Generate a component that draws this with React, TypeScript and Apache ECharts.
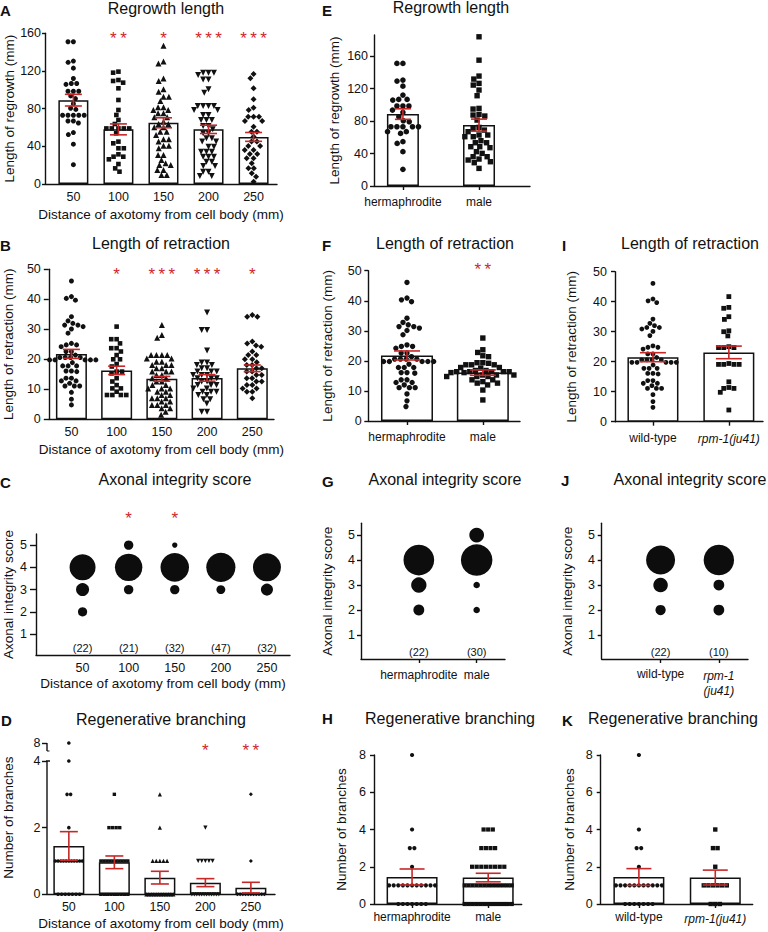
import React, { useEffect, useRef } from 'react';
import * as echarts from 'echarts';

const FONT = "'Liberation Sans', Arial, Helvetica, sans-serif";
const INK = '#111111';
const RED = '#c62828';
const STAR = '#d0262b';

// ---------- categories ----------
const distanceCats = ['50', '100', '150', '200', '250'];
const sexCats = ['hermaphrodite', 'male'];
const strainCats = ['wild-type', 'rpm-1(ju41)'];

// ---------- tick labels ----------
const regrowthTicks = [0, 40, 80, 120, 160];
const retractionTicks = [0, 10, 20, 30, 40, 50];
const scoreTicks = [1, 2, 3, 4, 5];
const branchTicksBroken = [0, 2, 4, 8];
const branchTicks = [0, 2, 4, 6, 8];

// ---------- A / E : regrowth length ----------
const regrowth50 = [151, 151, 130.5, 129.2, 123, 112, 106.7, 106.7, 105.8, 98.5, 98.5, 98.5, 93.5, 90.7, 85.3, 80.4, 79.2, 73, 73, 73, 73, 73, 66.9, 66.9, 64.8, 54.6, 52.5, 42.3, 20.5];
const regrowth100 = [119.3, 118.2, 110.4, 109.4, 107.6, 101.6, 89.2, 78.6, 73.3, 68, 63.7, 59, 59, 59, 59, 59, 53.8, 45, 43.2, 37.9, 37.9, 31.5, 29, 29, 26.2, 21.2, 16.6, 13.1];
const regrowth150 = [146.9, 130, 128, 112, 109.4, 100.5, 98, 92.7, 92.7, 88, 81.4, 81.4, 78.6, 78.6, 75, 75, 70.8, 70.8, 66.2, 63.7, 63.7, 60.2, 60.2, 55.6, 55.6, 52, 47.4, 47.4, 45, 40.7, 40.7, 37.9, 30.8, 30.8, 25.5, 21.9, 20.2, 20.2, 14.9, 14.9, 9.6, 9.6];
const regrowth200 = [118, 118, 118, 115.8, 111, 111, 100.5, 97, 82.8, 82.8, 82.8, 82.8, 78.6, 78.6, 73.3, 73.3, 68, 68, 68, 61.6, 61.6, 58, 53.8, 53.8, 48.5, 48.5, 45, 45, 39.6, 39.6, 34.3, 34.3, 34.3, 29, 29, 29, 23.7, 23.7, 19.1, 19.1, 13.1, 13.1, 8.5, 8.5];
const regrowth250 = [116.8, 112.2, 101.6, 89.9, 81, 78.6, 71.5, 71.5, 71.5, 66.9, 66.9, 60.9, 55.6, 55.6, 50.3, 45, 45, 40.4, 40.4, 36.1, 36.1, 31.9, 31.9, 27.3, 27.3, 21.9, 16.6, 16.6, 11.3, 7.8, 2.5];
const regrowthMeans = [89, 58, 65, 58, 50];
const regrowthSems = [6.2, 5.8, 5.3, 4.4, 4.7];
const regrowthStars = ['', '**', '*', '***', '***'];

const regrowthMale = [183.8, 155, 135.4, 131.7, 126.4, 124.3, 118.2, 111.2, 95.6, 94.8, 88.2, 87.4, 86.2, 81.2, 72.2, 71, 68.9, 66.9, 62.8, 62.8, 60.7, 60.7, 55.8, 53.3, 53.3, 48.4, 48.4, 47.2, 42.3, 40.2, 36.1, 36.1, 33.2, 32, 29.9, 28.7, 21.7];
const sexRegrowthMeans = [88.6, 75];
const sexRegrowthSems = [6.5, 7.4];

// ---------- B / F / I : retraction ----------
const retraction50 = [46.1, 40.9, 40.3, 39.7, 34.2, 32.8, 32, 31.4, 31.4, 30.9, 30.1, 28.7, 25.3, 24.8, 24.8, 24.2, 22.6, 22.6, 21.4, 20.6, 20.6, 20.6, 20.6, 19.8, 19.8, 19.8, 19.8, 19.8, 18.9, 17.8, 17.8, 17.8, 16.1, 16.1, 15.9, 13.7, 13.7, 12.8, 12.8, 12, 11.1, 11.1, 11.1, 9, 6.7, 4.8];
const retraction100 = [30.9, 26.7, 26.7, 25.3, 23.7, 23.7, 22.6, 21.4, 20, 20, 18.4, 17.6, 15.9, 15.9, 15.3, 13.7, 12.6, 11.4, 10.3, 10.3, 9.2, 8.1, 8.1, 8.1, 8.1];
const retraction150 = [31.4, 28.1, 27.2, 21.4, 21.4, 21.4, 21.4, 20.3, 20.3, 19.2, 19.2, 18.1, 18.1, 18.1, 17, 17, 15.9, 15.9, 15.9, 14.8, 14.8, 13.7, 13.7, 12.6, 12.6, 11.4, 11.4, 10.3, 10.3, 10.3, 9.2, 9.2, 8.1, 8.1, 7, 7, 7, 5.9, 5.9, 4.8, 4.8, 4.8, 3.7, 3.7, 2.5, 1.5];
const retraction200 = [35.6, 29.8, 29.8, 22.9, 18.9, 18.9, 18.1, 18.1, 17, 17, 15.9, 15.9, 15.9, 14.8, 14.8, 14.8, 13.7, 13.7, 13.7, 12.6, 12.6, 11.4, 11.4, 11.4, 10.3, 10.3, 9.2, 9.2, 9.2, 8.1, 8.1, 6.7, 6.7, 5.3, 2.5, 2.5];
const retraction250 = [34.8, 34.2, 34.2, 25.9, 25.3, 24.6, 24.2, 22.6, 21.4, 21.4, 20, 20, 19, 18.1, 18.1, 17, 17, 15.9, 15.9, 14.8, 14.8, 13.7, 13.7, 12.6, 12.6, 11.4, 11.4, 10.3, 10.3, 9.2, 9.2, 7];
const retractionMeans = [21.8, 16.3, 13.5, 13.8, 17];
const retractionSems = [1.5, 1.4, 0.8, 1.1, 1.1];
const retractionStars = ['', '*', '***', '***', '*'];

const retractionMale = [27.6, 23.7, 22.8, 21.7, 21.4, 19.4, 19.4, 19.2, 18.7, 18.7, 18.7, 17.8, 17.8, 17.6, 16.8, 16.8, 16.4, 16.4, 16.4, 16.4, 16.4, 16.1, 16.1, 15.3, 15.3, 15.3, 14.8, 14.8, 14.8, 13.7, 13.7, 13.1, 12.6, 12.6, 12, 10.3, 7];
const sexRetractionMeans = [21.8, 16.1];
const sexRetractionSems = [1.5, 0.9];
const sexRetractionStars = ['', '**'];

const retractionRpm = [41.7, 38.1, 37.8, 35, 34.1, 30.3, 30, 28.6, 25, 24.7, 24.7, 24.7, 19.4, 19.1, 19.1, 19.1, 19.1, 13.3, 11.4, 11.1, 11.1, 9.8, 3.9];
const strainRetractionMeans = [21.5, 23.1];
const strainRetractionSems = [1.5, 2.1];

// ---------- C / G / J : axonal integrity score, [score, count] ----------
const integrity50 = [[4, 16], [3, 4], [2, 2]];
const integrity100 = [[5, 2], [4, 17], [3, 2]];
const integrity150 = [[5, 1], [4, 28], [3, 3]];
const integrity200 = [[4, 43], [3, 4]];
const integrity250 = [[4, 27], [3, 5]];
const integrityN = [22, 21, 32, 47, 32];
const integrityStars = ['', '*', '*', '', ''];
const integrityMale = [[5, 5], [4, 23], [3, 1], [2, 1]];
const sexIntegrityN = [22, 30];
const integrityRpm = [[4, 8], [3, 1], [2, 1]];
const strainIntegrityN = [22, 10];

// ---------- D / H / K : branching ----------
const branching50 = [0, 0, 0, 0, 0, 0, 0, 1, 1, 1, 1, 1, 1, 1, 1, 1, 1, 1, 2, 3, 3, 4, 8];
const branching100 = [0, 0, 0, 0, 0, 0, 0, 0, 0, 1, 1, 1, 1, 1, 1, 1, 1, 1, 1, 2, 2, 2, 2, 3];
const branching150 = [0, 0, 0, 0, 0, 0, 0, 0, 0, 0, 0, 0, 1, 1, 1, 1, 1, 2, 3];
const branching200 = [0, 0, 0, 0, 0, 0, 0, 0, 0, 0, 0, 0, 1, 1, 1, 1, 1, 2];
const branching250 = [0, 0, 0, 0, 0, 0, 0, 0, 0, 0, 0, 1, 3];
const branchingMeans = [1.45, 0.96, 0.5, 0.35, 0.2];
const branchingSems = [0.43, 0.19, 0.19, 0.12, 0.16];
const branchingStars = ['', '', '', '*', '**'];

const branchingMale = [0, 0, 0, 0, 0, 0, 0, 0, 0, 0, 0, 0, 0, 1, 1, 1, 1, 1, 1, 1, 1, 1, 1, 1, 1, 1, 2, 2, 2, 2, 2, 2, 2, 2, 3, 3, 3, 3, 4, 4, 4];
const sexBranchingMeans = [1.45, 1.42];
const sexBranchingSems = [0.43, 0.23];
const branchingRpm = [0, 0, 0, 1, 1, 1, 1, 1, 1, 2, 3, 3, 4];
const strainBranchingMeans = [1.45, 1.42];
const strainBranchingSems = [0.45, 0.4];

// ---------- layout helpers ----------
type Spec = {
  left: number; top: number; right: number; bottom: number;
  xMin: number; xMax: number; yMin: number; yMax: number;
  cats: string[]; catFmt?: (c: string) => string;
  xTicks: boolean; xLabelMargin: number; xLabelSize: number;
  xName?: string; xNameGap?: number;
  yTicks: number[]; yFmt?: (v: number) => string; yTickPos?: (v: number) => number;
  yLabelMargin: number; yTickLen: number;
  yName: string; yNameGap: number; hideYLine?: boolean;
};

// broken axis transform for panel D (values above 4 compressed)
const BREAK_AT = 4;
const BREAK_SCALE = 0.135;
const brk = (v: number) => (v <= BREAK_AT ? v : BREAK_AT + (v - BREAK_AT) * BREAK_SCALE);
const unbrk = (v: number) => (v <= BREAK_AT + 1e-6 ? v : BREAK_AT + (v - BREAK_AT) / BREAK_SCALE);

function swarm(vals: number[], pxX: number, pxY: number, d: number): number[] {
  const order = vals.map((_, i) => i).sort((a, b) => vals[b] - vals[a]);
  const placed: { x: number; y: number }[] = [];
  const offs = new Array(vals.length).fill(0);
  for (const i of order) {
    const y = vals[i] * pxY;
    const forb: [number, number][] = [];
    for (const p of placed) {
      const dy = Math.abs(p.y - y);
      if (dy < d) {
        const w = Math.sqrt(d * d - dy * dy);
        forb.push([p.x - w, p.x + w]);
      }
    }
    const cands = [0];
    forb.forEach(([a, b]) => cands.push(a, b));
    cands.sort((a, b) => Math.abs(a) - Math.abs(b));
    let x = 0;
    for (const c of cands) {
      if (forb.every(([a, b]) => c <= a + 1e-6 || c >= b - 1e-6)) { x = c; break; }
    }
    placed.push({ x, y });
    offs[i] = x / pxX;
  }
  return offs;
}

function rows(vals: number[], pxX: number, d: number, maxW: number): number[] {
  const groups = new Map<number, number[]>();
  vals.forEach((v, i) => {
    if (!groups.has(v)) groups.set(v, []);
    groups.get(v)!.push(i);
  });
  const offs = new Array(vals.length).fill(0);
  groups.forEach((idx) => {
    const n = idx.length;
    const step = n > 1 ? Math.min(d, maxW / (n - 1)) : d;
    idx.forEach((i, k) => { offs[i] = ((k - (n - 1) / 2) * step) / pxX; });
  });
  return offs;
}

function buildOption() {
  const grid: any[] = [];
  const xAxis: any[] = [];
  const yAxis: any[] = [];
  const series: any[] = [];
  const graphic: any[] = [];
  const lineStyle = { color: INK, width: 1.4 };

  const addPanel = (s: Spec) => {
    const i = grid.length;
    grid.push({ left: s.left, top: s.top, width: s.right - s.left, height: s.bottom - s.top, containLabel: false });
    const catIdx = s.cats.map((_, k) => k);
    xAxis.push({
      gridIndex: i, type: 'value', min: s.xMin, max: s.xMax,
      axisLine: { show: true, onZero: false, lineStyle },
      axisTick: { show: s.xTicks, length: 4, customValues: catIdx, lineStyle },
      axisLabel: {
        show: true, customValues: catIdx, margin: s.xLabelMargin, color: INK,
        fontSize: s.xLabelSize, fontFamily: FONT,
        formatter: (v: number) => { const c = s.cats[Math.round(v)] ?? ''; return s.catFmt ? s.catFmt(c) : c; },
        rich: { it: { fontStyle: 'italic', fontSize: s.xLabelSize, fontFamily: FONT, color: INK, lineHeight: 15 } },
      },
      splitLine: { show: false },
      name: s.xName ?? '', nameLocation: 'middle', nameGap: s.xNameGap ?? 20,
      nameTextStyle: { color: INK, fontSize: 13.5, fontFamily: FONT },
    });
    const tickPos = s.yTicks.map((t) => (s.yTickPos ? s.yTickPos(t) : t));
    yAxis.push({
      gridIndex: i, type: 'value', min: s.yMin, max: s.yMax,
      axisLine: { show: !s.hideYLine, onZero: false, lineStyle },
      axisTick: { show: true, length: s.yTickLen, customValues: tickPos, lineStyle },
      axisLabel: {
        customValues: tickPos, margin: s.yLabelMargin, color: INK, fontSize: 12.5, fontFamily: FONT,
        formatter: (v: number) => (s.yFmt ? s.yFmt(v) : String(Math.round(v * 100) / 100)),
      },
      splitLine: { show: false },
      name: s.yName, nameLocation: 'middle', nameGap: s.yNameGap, nameRotate: 90,
      nameTextStyle: { color: INK, fontSize: 13.5, fontFamily: FONT },
    });
    return i;
  };

  const scales = (s: Spec) => ({
    pxX: (s.right - s.left) / (s.xMax - s.xMin),
    pxY: (s.bottom - s.top) / (s.yMax - s.yMin),
  });

  const addBars = (i: number, means: number[], barWidth: number, tr = (v: number) => v) => {
    series.push({
      type: 'bar', xAxisIndex: i, yAxisIndex: i, barWidth, silent: true, z: 2,
      data: means.map((m, k) => [k, tr(m)]),
      itemStyle: { color: '#ffffff', borderColor: INK, borderWidth: 1.5, opacity: 1 },
    });
  };

  const addDots = (i: number, s: Spec, groups: number[][], shapes: string[], sizes: number[], d: number,
    mode: 'swarm' | 'rows', maxW = 30, tr = (v: number) => v) => {
    const { pxX, pxY } = scales(s);
    groups.forEach((vals, k) => {
      const tv = vals.map(tr);
      const offs = mode === 'swarm' ? swarm(tv, pxX, pxY, d) : rows(tv, pxX, d, maxW);
      const shape = shapes[k];
      series.push({
        type: 'scatter', xAxisIndex: i, yAxisIndex: i, silent: true, z: 3, clip: false,
        symbol: shape === 'down' ? 'triangle' : shape, symbolRotate: shape === 'down' ? 180 : 0,
        symbolSize: sizes[k], itemStyle: { color: INK, opacity: 1 },
        data: tv.map((v, j) => [k + offs[j], v]),
      });
    });
  };

  const addErr = (i: number, means: number[], sems: number[], cap: number) => {
    series.push({
      type: 'custom', xAxisIndex: i, yAxisIndex: i, silent: true, z: 5, clip: false,
      data: means.map((m, k) => [k, m, sems[k]]),
      encode: { x: 0, y: 1 },
      renderItem: (_p: any, api: any) => {
        const x = api.value(0), m = api.value(1), se = api.value(2);
        const a = api.coord([x, m + se]);
        const b = api.coord([x, m - se]);
        const st = { stroke: RED, lineWidth: 1.6 };
        return {
          type: 'group', children: [
            { type: 'line', shape: { x1: a[0], y1: a[1], x2: b[0], y2: b[1] }, style: st },
            { type: 'line', shape: { x1: a[0] - cap, y1: a[1], x2: a[0] + cap, y2: a[1] }, style: st },
            { type: 'line', shape: { x1: b[0] - cap, y1: b[1], x2: b[0] + cap, y2: b[1] }, style: st },
          ],
        };
      },
    });
  };

  const addTexts = (i: number, texts: string[], y: number, color: string, fontSize: number) => {
    const data = texts.map((t, k) => (t ? [k, y, t] : null)).filter(Boolean);
    series.push({
      type: 'scatter', xAxisIndex: i, yAxisIndex: i, silent: true, z: 6, clip: false,
      symbolSize: 1, itemStyle: { color: 'rgba(0,0,0,0)', opacity: 1 },
      data,
      label: {
        show: true, position: 'inside', color, fontSize, fontFamily: FONT, opacity: 1,
        formatter: (p: any) => p.value[2],
      },
    });
  };

  const stars = (s: string) => s.split('').join('\u2009');

  const addBubbles = (i: number, groups: number[][][], ns: number[], k: number) => {
    const data: number[][] = [];
    groups.forEach((g, c) => g.forEach(([score, count]) => data.push([c, score, count, ns[c]])));
    series.push({
      type: 'scatter', xAxisIndex: i, yAxisIndex: i, silent: true, z: 3, clip: false,
      symbol: 'circle', itemStyle: { color: '#0d0d0d', opacity: 1 },
      symbolSize: (v: number[]) => k * Math.sqrt(v[2] / v[3]),
      data,
    });
  };

  const title = (text: string, x: number, y: number) => graphic.push({
    type: 'text', x, y, silent: true,
    style: { text, fill: INK, fontSize: 16, fontFamily: FONT, align: 'center', verticalAlign: 'middle', textAlign: 'center', textVerticalAlign: 'middle' },
  });
  const letter = (text: string, x: number, y: number) => graphic.push({
    type: 'text', x, y, silent: true,
    style: { text, fill: INK, fontSize: 15, fontWeight: 'bold', fontFamily: FONT, align: 'left', verticalAlign: 'middle', textAlign: 'left', textVerticalAlign: 'middle' },
  });

  const distName = 'Distance of axotomy from cell body (mm)';
  const italicFmt = (c: string) => (c.startsWith('rpm') ? `{it|${c}}` : c);
  const italicFmt2 = (c: string) => (c.startsWith('rpm') ? c.replace('(', '\n(').split('\n').map((p) => `{it|${p}}`).join('\n') : c);
  const distShapes = ['circle', 'rect', 'triangle', 'down', 'diamond'];

  // ---- A ----
  const sA: Spec = {
    left: 45, top: 33.3, right: 277, bottom: 184, xMin: -0.63, xMax: 4.52, yMin: 0, yMax: 160,
    cats: distanceCats, xTicks: false, xLabelMargin: 6, xLabelSize: 12.5, xName: distName, xNameGap: 23,
    yTicks: regrowthTicks, yLabelMargin: 4, yTickLen: 3, yName: 'Length of regrowth (mm)', yNameGap: 25.5,
  };
  const iA = addPanel(sA);
  addBars(iA, regrowthMeans, 30);
  addDots(iA, sA, [regrowth50, regrowth100, regrowth150, regrowth200, regrowth250], distShapes, [5, 4.6, 6, 6, 6], 5.4, 'swarm');
  addErr(iA, regrowthMeans, regrowthSems, 8.5);
  addTexts(iA, regrowthStars.map(stars), 154.5, STAR, 17);

  // ---- B ----
  const sB: Spec = {
    left: 48.3, top: 269.3, right: 274, bottom: 419.3, xMin: -0.5, xMax: 4.48, yMin: 0, yMax: 50,
    cats: distanceCats, xTicks: false, xLabelMargin: 6.5, xLabelSize: 12.5, xName: distName, xNameGap: 23,
    yTicks: retractionTicks, yLabelMargin: 8, yTickLen: 5, yName: 'Length of retraction (mm)', yNameGap: 33.8,
  };
  const iB = addPanel(sB);
  addBars(iB, retractionMeans, 31);
  addDots(iB, sB, [retraction50, retraction100, retraction150, retraction200, retraction250], distShapes, [5, 4.6, 6, 6, 6], 5.4, 'swarm');
  addErr(iB, retractionMeans, retractionSems, 8.5);
  addTexts(iB, retractionStars.map(stars), 48.4, STAR, 17);

  // ---- C ----
  const sC: Spec = {
    left: 36, top: 534, right: 290, bottom: 655, xMin: -1.01, xMax: 4.5, yMin: 0.06, yMax: 5.5,
    cats: distanceCats, xTicks: false, xLabelMargin: 6, xLabelSize: 12.5, xName: distName, xNameGap: 21,
    yTicks: scoreTicks, yLabelMargin: 9, yTickLen: 6, yName: 'Axonal integrity score', yNameGap: 21,
  };
  const iC = addPanel(sC);
  addBubbles(iC, [integrity50, integrity100, integrity150, integrity200, integrity250], integrityN, 30.5);
  addTexts(iC, integrityN.map((n) => `(${n})`), 0.37, INK, 11);
  addTexts(iC, integrityStars.map(stars), 6.19, STAR, 17);

  // ---- D ----
  const sD: Spec = {
    left: 46.7, top: 741, right: 275, bottom: 894.3, xMin: -0.48, xMax: 4.53, yMin: 0, yMax: 4.6,
    cats: distanceCats, xTicks: false, xLabelMargin: 6, xLabelSize: 12.5, xName: distName, xNameGap: 22,
    yTicks: branchTicksBroken, yTickPos: brk, yFmt: (v) => String(Math.round(unbrk(v))),
    yLabelMargin: 6.5, yTickLen: 5, yName: 'Number of branches', yNameGap: 32, hideYLine: true,
  };
  const iD = addPanel(sD);
  const pxD = scales(sD);
  const axisSeg = (pts: number[][], w = 1.4) => series.push({
    type: 'line', xAxisIndex: iD, yAxisIndex: iD, silent: true, z: 4, clip: false,
    symbol: 'none', lineStyle: { color: INK, width: w }, data: pts,
  });
  // broken y axis: lower part 0..4 with a cap at 4, upper stub below 8
  axisSeg([[sD.xMin, 0], [sD.xMin, BREAK_AT]]);
  axisSeg([[sD.xMin - 3 / pxD.pxX, BREAK_AT], [sD.xMin + 3 / pxD.pxX, BREAK_AT]]);
  axisSeg([[sD.xMin, brk(8)], [sD.xMin, BREAK_AT + 0.3]]);
  axisSeg([[sD.xMin, BREAK_AT + 0.3], [sD.xMin + 2.5 / pxD.pxX, BREAK_AT + 0.3]], 1.2);
  addBars(iD, branchingMeans, 31);
  addDots(iD, sD, [branching50, branching100, branching150, branching200, branching250], distShapes, [3.6, 3.4, 4.2, 4.2, 4], 3.6, 'rows', 27, brk);
  addErr(iD, branchingMeans, branchingSems, 9);
  addTexts(iD, branchingStars.map(stars), 4.3, STAR, 17);

  // ---- E ----
  const sE: Spec = {
    left: 374, top: 35, right: 530, bottom: 186, xMin: -0.38, xMax: 1.67, yMin: 0, yMax: 186,
    cats: sexCats, xTicks: true, xLabelMargin: 10, xLabelSize: 12,
    yTicks: regrowthTicks, yLabelMargin: 6, yTickLen: 4, yName: 'Length of regrowth (mm)', yNameGap: 33,
  };
  const iE = addPanel(sE);
  addBars(iE, sexRegrowthMeans, 32);
  addDots(iE, sE, [regrowth50, regrowthMale], ['circle', 'rect'], [5.6, 5.4], 6, 'swarm');
  addErr(iE, sexRegrowthMeans, sexRegrowthSems, 8);

  // ---- F ----
  const sF: Spec = {
    left: 368.3, top: 270.7, right: 520, bottom: 421, xMin: -0.51, xMax: 1.49, yMin: 0, yMax: 50,
    cats: sexCats, xTicks: true, xLabelMargin: 10, xLabelSize: 12,
    yTicks: retractionTicks, yLabelMargin: 6.6, yTickLen: 4, yName: 'Length of retraction (mm)', yNameGap: 34,
  };
  const iF = addPanel(sF);
  addBars(iF, sexRetractionMeans, 52);
  addDots(iF, sF, [retraction50, retractionMale], ['circle', 'rect'], [5.4, 5.4], 5.8, 'swarm');
  addErr(iF, sexRetractionMeans, sexRetractionSems, 13);
  addTexts(iF, sexRetractionStars.map(stars), 50.5, STAR, 17);

  // ---- I ----
  const sI: Spec = {
    left: 615, top: 271.7, right: 763, bottom: 421.7, xMin: -0.5, xMax: 1.45, yMin: 0, yMax: 50,
    cats: strainCats, catFmt: italicFmt, xTicks: true, xLabelMargin: 10, xLabelSize: 12,
    yTicks: retractionTicks, yLabelMargin: 8, yTickLen: 4, yName: 'Length of retraction (mm)', yNameGap: 37,
  };
  const iI = addPanel(sI);
  addBars(iI, strainRetractionMeans, 51);
  addDots(iI, sI, [retraction50, retractionRpm], ['circle', 'rect'], [4.8, 4.8], 5.2, 'swarm');
  addErr(iI, strainRetractionMeans, strainRetractionSems, 13);

  // ---- G ----
  const sG: Spec = {
    left: 361, top: 523.3, right: 505, bottom: 659, xMin: -1.0, xMax: 1.49, yMin: 0.04, yMax: 5.47,
    cats: sexCats, xTicks: true, xLabelMargin: 10, xLabelSize: 12,
    yTicks: scoreTicks, yLabelMargin: 6, yTickLen: 4, yName: 'Axonal integrity score', yNameGap: 27,
  };
  const iG = addPanel(sG);
  addBubbles(iG, [integrity50, integrityMale], sexIntegrityN, 36);
  addTexts(iG, sexIntegrityN.map((n) => `(${n})`), 0.32, INK, 11);

  // ---- J ----
  const sJ: Spec = {
    left: 601.7, top: 523.3, right: 748, bottom: 659, xMin: -1.01, xMax: 1.5, yMin: 0.04, yMax: 5.47,
    cats: strainCats, catFmt: italicFmt2, xTicks: true, xLabelMargin: 9, xLabelSize: 12,
    yTicks: scoreTicks, yLabelMargin: 6.7, yTickLen: 4, yName: 'Axonal integrity score', yNameGap: 27.7,
  };
  const iJ = addPanel(sJ);
  addBubbles(iJ, [integrity50, integrityRpm], strainIntegrityN, 34);
  addTexts(iJ, strainIntegrityN.map((n) => `(${n})`), 0.32, INK, 11);

  // ---- H ----
  const sH: Spec = {
    left: 374, top: 755, right: 521.7, bottom: 904, xMin: -0.5, xMax: 1.44, yMin: 0, yMax: 8,
    cats: sexCats, xTicks: true, xLabelMargin: 7, xLabelSize: 12,
    yTicks: branchTicks, yLabelMargin: 8, yTickLen: 4, yName: 'Number of branches', yNameGap: 26,
  };
  const iH = addPanel(sH);
  addBars(iH, sexBranchingMeans, 51);
  addDots(iH, sH, [branching50, branchingMale], ['circle', 'rect'], [4.2, 4.2], 4.6, 'rows', 47);
  addErr(iH, sexBranchingMeans, sexBranchingSems, 12.5);

  // ---- K ----
  const sK: Spec = {
    left: 600.7, top: 755, right: 752.7, bottom: 904, xMin: -0.5, xMax: 1.49, yMin: 0, yMax: 8,
    cats: strainCats, catFmt: italicFmt, xTicks: true, xLabelMargin: 7, xLabelSize: 12,
    yTicks: branchTicks, yLabelMargin: 8, yTickLen: 4, yName: 'Number of branches', yNameGap: 24.7,
  };
  const iK = addPanel(sK);
  addBars(iK, strainBranchingMeans, 51);
  addDots(iK, sK, [branching50, branchingRpm], ['circle', 'rect'], [4.2, 4.4], 4.6, 'rows', 47);
  addErr(iK, strainBranchingMeans, strainBranchingSems, 12.5);

  // ---- titles & panel letters ----
  title('Regrowth length', 166, 8);
  title('Length of retraction', 161, 243);
  title('Axonal integrity score', 175, 479);
  title('Regenerative branching', 161, 719);
  title('Regrowth length', 451, 7.5);
  title('Length of retraction', 445, 243);
  title('Length of retraction', 690, 243);
  title('Axonal integrity score', 445, 479);
  title('Axonal integrity score', 690, 479);
  title('Regenerative branching', 450, 718.5);
  title('Regenerative branching', 673, 718.5);
  letter('A', 0, 10);
  letter('B', 0, 245);
  letter('C', 0, 482);
  letter('D', 1, 720);
  letter('E', 322, 10);
  letter('F', 322, 245);
  letter('G', 322, 481);
  letter('H', 322, 718.5);
  letter('I', 562, 245);
  letter('J', 561, 480);
  letter('K', 562, 720);

  return {
    animation: false,
    backgroundColor: '#ffffff',
    textStyle: { fontFamily: FONT },
    grid, xAxis, yAxis, series, graphic,
  };
}

export default function App() {
  const ref = useRef<HTMLDivElement>(null);
  useEffect(() => {
    if (!ref.current) return;
    const chart = echarts.init(ref.current, null, { renderer: 'svg', width: 768, height: 932 });
    chart.setOption(buildOption() as any);
    return () => chart.dispose();
  }, []);
  return <div ref={ref} style={{ position: 'absolute', left: 0, top: 0, width: 768, height: 932, background: '#fff' }} />;
}
